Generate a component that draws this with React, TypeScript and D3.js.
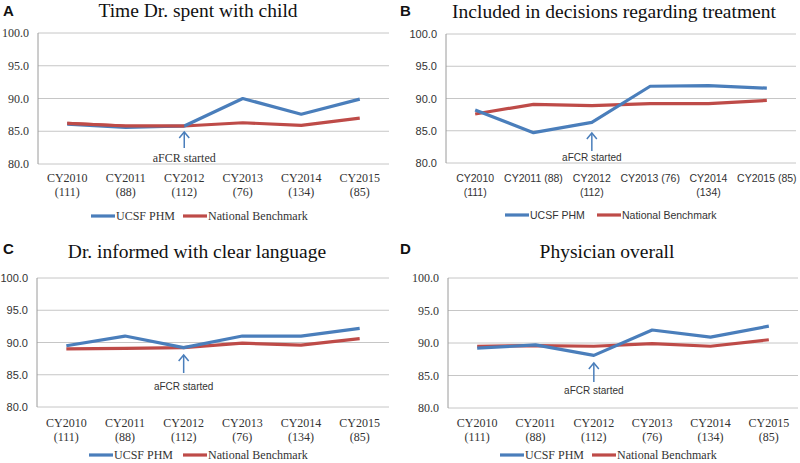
import React, { useEffect, useRef } from "react";
import * as d3 from "d3";

// chart data
const years = ["CY2010", "CY2011", "CY2012", "CY2013", "CY2014", "CY2015"];
const counts = ["(111)", "(88)", "(112)", "(76)", "(134)", "(85)"];
const yTicks = [80, 85, 90, 95, 100];
const seriesNames = ["UCSF PHM", "National Benchmark"];

const ucsfA = [86.1, 85.6, 85.8, 90.0, 87.6, 89.9];
const natA = [86.2, 85.8, 85.8, 86.3, 85.9, 87.0];
const ucsfB = [88.2, 84.7, 86.3, 91.9, 92.0, 91.6];
const natB = [87.6, 89.1, 88.9, 89.2, 89.2, 89.7];
const ucsfC = [89.5, 91.0, 89.2, 91.0, 91.0, 92.2];
const natC = [89.0, 89.1, 89.2, 89.9, 89.6, 90.6];
const ucsfD = [89.2, 89.7, 88.1, 92.0, 90.9, 92.6];
const natD = [89.5, 89.6, 89.5, 89.9, 89.5, 90.5];

const BLUE = "#4a7ebb";
const RED = "#be4b48";
const SERIF = "'Liberation Serif', serif";
const SANS = "'Liberation Sans', Arial, sans-serif";

const serifText = { font: SERIF, size: 12 };
const sansText = { font: SANS, size: 11 };

const panels = [
  {
    letter: "A", title: "Time Dr. spent with child", ucsf: ucsfA, nat: natA,
    left: 38, right: 389, top: 33, bottom: 164, titleX: 198, titleY: 17, letterX: 3, letterY: 16,
    labelY: 182, legendY: 216, legendX: 91, legendX2: 183, arrow: [132, 148, 162],
    tick: serifText, label: serifText, legend: serifText, note: serifText, oneLine: [] as number[],
  },
  {
    letter: "B", title: "Included in decisions regarding treatment", ucsf: ucsfB, nat: natB,
    left: 446, right: 796, top: 34, bottom: 163, titleX: 614, titleY: 18, letterX: 400, letterY: 16,
    labelY: 182, legendY: 215, legendX: 505, legendX2: 597, arrow: [133, 151, 161],
    tick: sansText, label: { font: SANS, size: 10.5 }, legend: { font: SANS, size: 10.5 }, note: { font: SANS, size: 10 }, oneLine: [1, 3, 5],
  },
  {
    letter: "C", title: "Dr. informed with clear language", ucsf: ucsfC, nat: natC,
    left: 37, right: 389, top: 278, bottom: 407, titleX: 197, titleY: 258, letterX: 3, letterY: 254,
    labelY: 427, legendY: 455, legendX: 89, legendX2: 183, arrow: [355, 373, 390],
    tick: sansText, label: serifText, legend: serifText, note: { font: SANS, size: 10 }, oneLine: [] as number[],
  },
  {
    letter: "D", title: "Physician overall", ucsf: ucsfD, nat: natD,
    left: 448, right: 798, top: 278, bottom: 408, titleX: 607, titleY: 258, letterX: 400, letterY: 254,
    labelY: 427, legendY: 455, legendX: 500, legendX2: 592, arrow: [363, 382, 394],
    tick: serifText, label: serifText, legend: serifText, note: { font: SANS, size: 10 }, oneLine: [] as number[],
  },
];

function App() {
  const ref = useRef<SVGSVGElement>(null);

  useEffect(() => {
    const svg = d3.select(ref.current);
    svg.selectAll("*").remove();

    panels.forEach((p) => {
      const g = svg.append("g");
      const x = d3.scalePoint<string>().domain(years).range([p.left, p.right]).padding(0.5);
      const y = d3.scaleLinear().domain([80, 100]).range([p.bottom, p.top]);

      // gridlines
      g.selectAll(".grid")
        .data(yTicks)
        .join("line")
        .attr("x1", p.left)
        .attr("x2", p.right)
        .attr("y1", (d) => y(d))
        .attr("y2", (d) => y(d))
        .attr("stroke", "#c6c6c6")
        .attr("stroke-width", 1);

      // y axis line
      g.append("line")
        .attr("x1", p.left).attr("x2", p.left)
        .attr("y1", p.top).attr("y2", p.bottom)
        .attr("stroke", "#9a9a9a");

      g.selectAll(".ytick")
        .data(yTicks)
        .join("text")
        .attr("x", p.left - 9)
        .attr("y", (d) => y(d) + 4)
        .attr("text-anchor", "end")
        .style("font-family", p.tick.font)
        .style("font-size", p.tick.size + "px")
        .attr("fill", "#333")
        .text((d) => d.toFixed(1));

      // x labels
      years.forEach((yr, i) => {
        const t = g.append("text")
          .attr("text-anchor", "middle")
          .style("font-family", p.label.font)
          .style("font-size", p.label.size + "px")
          .attr("fill", "#333");
        if (p.oneLine.includes(i)) {
          t.append("tspan").attr("x", x(yr)!).attr("y", p.labelY).text(yr + " " + counts[i]);
        } else {
          t.append("tspan").attr("x", x(yr)!).attr("y", p.labelY).text(yr);
          t.append("tspan").attr("x", x(yr)!).attr("y", p.labelY + 14).text(counts[i]);
        }
      });

      const line = d3.line<number>()
        .x((_, i) => x(years[i])!)
        .y((d) => y(d));

      g.append("path").attr("d", line(p.nat)).attr("fill", "none")
        .attr("stroke", RED).attr("stroke-width", 3.2).attr("stroke-linejoin", "round");
      g.append("path").attr("d", line(p.ucsf)).attr("fill", "none")
        .attr("stroke", BLUE).attr("stroke-width", 3.2).attr("stroke-linejoin", "round");
      // national drawn on top where they overlap in A
      if (p.letter === "A") {
        g.append("path").attr("d", line(p.nat.slice(0, 3))).attr("fill", "none")
          .attr("stroke", RED).attr("stroke-width", 3.2);
      }

      // aFCR arrow
      const ax = x(years[2])!;
      const [aTop, aBottom, aText] = p.arrow;
      g.append("line").attr("x1", ax).attr("x2", ax).attr("y1", aTop + 1).attr("y2", aBottom)
        .attr("stroke", BLUE).attr("stroke-width", 1.5);
      g.append("path")
        .attr("d", `M${ax - 5},${aTop + 6} L${ax},${aTop} L${ax + 5},${aTop + 6}`)
        .attr("fill", "none").attr("stroke", BLUE).attr("stroke-width", 1.5);
      g.append("text")
        .attr("x", ax).attr("y", aText)
        .attr("text-anchor", "middle")
        .style("font-family", p.note.font)
        .style("font-size", p.note.size + "px")
        .attr("fill", "#333")
        .text("aFCR started");

      // legend
      const legend = [
        { name: seriesNames[0], color: BLUE, x0: p.legendX },
        { name: seriesNames[1], color: RED, x0: p.legendX2 },
      ];
      legend.forEach((l) => {
        g.append("line").attr("x1", l.x0).attr("x2", l.x0 + 24)
          .attr("y1", p.legendY).attr("y2", p.legendY)
          .attr("stroke", l.color).attr("stroke-width", 3.2);
        g.append("text").attr("x", l.x0 + 25).attr("y", p.legendY + 4)
          .style("font-family", p.legend.font).style("font-size", p.legend.size + "px")
          .attr("fill", "#333").text(l.name);
      });

      // title and panel letter
      g.append("text").attr("x", p.titleX).attr("y", p.titleY)
        .attr("text-anchor", "middle")
        .style("font-family", SERIF).style("font-size", "19.5px")
        .attr("fill", "#111").text(p.title);
      g.append("text").attr("x", p.letterX).attr("y", p.letterY)
        .style("font-family", SANS)
        .style("font-size", "15px").style("font-weight", "bold")
        .attr("fill", "#111").text(p.letter);
    });
  }, []);

  return (
    <div style={{ position: "absolute", left: 0, top: 0 }}>
      <svg ref={ref} width={800} height={463} style={{ display: "block", background: "#fff" }} />
    </div>
  );
}

export default App;
